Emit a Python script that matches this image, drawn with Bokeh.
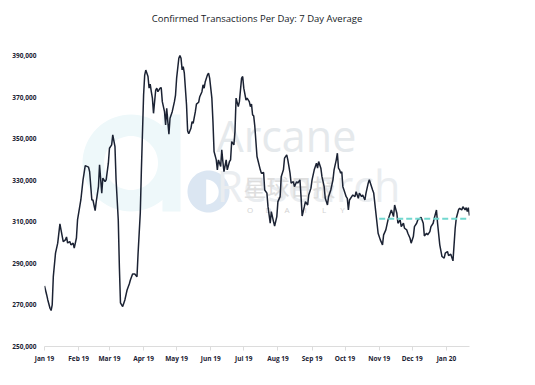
import numpy as np
import pandas as pd
from bokeh.plotting import figure
from bokeh.models import (Range1d, FixedTicker, NumeralTickFormatter, Label, Title,
                          PolyAnnotation, BoxAnnotation, ColumnDataSource)
from bokeh.embed import file_html
from bokeh.resources import INLINE

# ---------------- data ----------------
title_text = "Confirmed Transactions Per Day: 7 Day Average"
start_date = "2019-01-01"
# days since 2019-01-01
day_offsets = [
    0, 2, 3, 5, 6, 7, 8, 10, 12, 14, 15, 17, 19, 20, 21, 23, 24, 26, 27, 29,
    30, 33, 35, 37, 40, 41, 43, 44, 46, 47, 49, 50, 52, 53, 55, 56, 58, 59, 61, 62,
    64, 65, 67, 68, 69, 71, 73, 75, 77, 78, 80, 82, 84, 85, 87, 88, 90, 91, 92, 94,
    95, 96, 97, 98, 99, 101, 102, 103, 105, 106, 107, 109, 110, 111, 112, 113, 114, 116, 118, 119,
    120, 122, 123, 124, 125, 126, 127, 129, 130, 131, 133, 134, 135, 137, 138, 140, 141, 143, 144, 145,
    146, 148, 149, 150, 152, 153, 154, 156, 157, 158, 160, 161, 162, 163, 165, 166, 168, 169, 170, 172,
    173, 174, 176, 177, 179, 180, 181, 183, 184, 186, 187, 188, 189, 190, 191, 193, 196, 197, 199, 200,
    202, 203, 205, 206, 208, 209, 211, 212, 214, 215, 217, 218, 220, 221, 223, 224, 226, 227, 229, 230,
    232, 233, 234, 236, 237, 239, 240, 242, 243, 245, 246, 247, 248, 249, 251, 252, 254, 255, 257, 258,
    260, 262, 263, 265, 266, 267, 268, 269, 270, 271, 272, 274, 275, 276, 277, 279, 280, 282, 283, 285,
    286, 288, 289, 291, 292, 294, 295, 298, 299, 301, 303, 305, 307, 308, 310, 312, 314, 315, 317, 318,
    320, 321, 323, 324, 326, 327, 329, 330, 332, 333, 335, 336, 338, 339, 341, 342, 344, 345, 347, 348,
    350, 351, 353, 354, 356, 357, 359, 361, 363, 364, 366, 367, 369, 371, 373, 374, 376, 377, 379, 380,
    382, 383, 384, 385, 386,
]
tx_per_day = [
    279200, 274800, 272400, 268400, 267300, 270000, 283600, 294900, 299700, 309000,
    306100, 300500, 301300, 302700, 299800, 300500, 298900, 299700, 297300, 302200,
    310900, 320500, 330200, 337000, 336300, 334100, 320500, 320500, 315400, 319700,
    326900, 337400, 323800, 331000, 329300, 330200, 338200, 345400, 347000, 351800,
    346200, 330200, 310900, 288400, 271000, 269200, 272400, 277200, 280100, 282000,
    284900, 284900, 283600, 294900, 314300, 335000, 371000, 380600, 383000, 379900,
    374300, 376200, 372600, 369500, 362200, 373400, 374300, 372600, 374300, 374600,
    367800, 363000, 356600, 364600, 358200, 352100, 359800, 363000, 367800, 371000,
    379100, 388700, 390000, 388700, 383100, 384700, 381500, 366200, 353700, 352400,
    355000, 358200, 357400, 363000, 366600, 367500, 370200, 372600, 375900, 374300,
    377400, 380700, 381500, 379100, 369500, 358200, 343800, 339800, 335000, 339800,
    336600, 344600, 339000, 334100, 339800, 335000, 339000, 339800, 348600, 347000,
    353400, 369500, 365400, 367800, 379100, 379900, 374300, 368600, 369500, 367800,
    365400, 366600, 361400, 361000, 356000, 341400, 335000, 333400, 333700, 325300,
    323800, 317300, 309300, 314900, 310100, 308000, 312500, 319700, 322100, 331700,
    335000, 340600, 342200, 339800, 333400, 328600, 329300, 326900, 329300, 328600,
    330200, 322100, 312800, 317300, 319700, 318100, 322900, 326200, 330200, 335000,
    336600, 338200, 335800, 339000, 335800, 331700, 326900, 321300, 318100, 322100,
    325300, 330200, 335000, 339800, 343000, 335800, 335000, 333400, 334100, 326900,
    325300, 322100, 321300, 315700, 320500, 322100, 322900, 322100, 324500, 321300,
    323800, 322100, 322900, 320500, 323800, 328600, 330200, 325300, 323800, 314100,
    304500, 301300, 298900, 303700, 306100, 310900, 314100, 315700, 312500, 318100,
    314100, 309300, 310900, 307700, 309300, 306900, 306100, 304500, 302100, 299700,
    302900, 307700, 309300, 310900, 311700, 312200, 309300, 303200, 304500, 303700,
    305300, 307700, 309300, 311700, 315700, 309300, 298900, 293300, 292500, 294900,
    295700, 293700, 294400, 291200, 306900, 311700, 315700, 316500, 315700, 317300,
    315700, 316800, 314900, 316800, 313000,
]
reference_dates = ["2019-11-01", "2020-01-22"]
reference_level = [311500, 311500]

x_end_date = "2020-01-22"
tick_dates = ["2019-01-01", "2019-02-01", "2019-03-01", "2019-04-01", "2019-05-01",
              "2019-06-01", "2019-07-01", "2019-08-01", "2019-09-01", "2019-10-01",
              "2019-11-01", "2019-12-01", "2020-01-01"]
tick_labels = ["Jan 19", "Feb 19", "Mar 19", "Apr 19", "May 19", "Jun 19", "Jul 19",
               "Aug 19", "Sep 19", "Oct 19", "Nov 19", "Dec 19", "Jan 20"]
y_ticks = [250000, 270000, 290000, 310000, 330000, 350000, 370000, 390000]
y_min, y_max = 250000, 392900

# ---------------- figure ----------------
FRAME_W, FRAME_H = 425, 297
dates = pd.Timestamp(start_date) + pd.to_timedelta(day_offsets, unit="D")
src = ColumnDataSource(dict(date=dates, value=tx_per_day))

p = figure(width=44 + FRAME_W + 43, height=49 + FRAME_H + 30, x_axis_type="datetime",
           x_range=Range1d(pd.Timestamp(start_date), pd.Timestamp(x_end_date)),
           y_range=Range1d(y_min, y_max),
           output_backend="svg", toolbar_location=None,
           min_border_left=44, min_border_right=43,
           min_border_top=49, min_border_bottom=30,
           background_fill_color="white", border_fill_color="white")
p.outline_line_color = None
p.grid.visible = False

p.title.text = title_text
p.title.align = "center"
p.title.text_font = "Open Sans"
p.title.text_font_size = "9.5px"
p.title.text_font_style = "normal"
p.title.text_color = "#151a26"
p.title.standoff = 4
# white (invisible on the white border) spacer between the title and the frame
p.add_layout(Title(text=".", text_font="Open Sans", text_font_size="9.5px",
                   text_color="white", standoff=15), "above")

# ---------------- watermark ----------------
ink = "#eef8fa"
ang = np.linspace(0, 2 * np.pi, 73)
ring_c, r_out, r_in = (86.5, 183.5), 48.5, 27
ring_x = list(ring_c[0] + r_out * np.cos(ang)) + list(ring_c[0] + r_in * np.cos(ang[::-1]))
ring_y = list(ring_c[1] + r_out * np.sin(ang)) + list(ring_c[1] + r_in * np.sin(ang[::-1]))
p.add_layout(PolyAnnotation(xs=ring_x, ys=ring_y, xs_units="screen", ys_units="screen",
                            fill_color=ink, fill_alpha=1, line_alpha=0, level="underlay"))
p.add_layout(BoxAnnotation(left=118, right=136, bottom=135, top=232,
                           left_units="screen", right_units="screen",
                           bottom_units="screen", top_units="screen",
                           fill_color=ink, fill_alpha=1, line_alpha=0, level="underlay"))
disc_x = list(164 + 21 * np.cos(ang))
disc_y = list(155 + 21 * np.sin(ang))
p.add_layout(PolyAnnotation(xs=disc_x, ys=disc_y, xs_units="screen", ys_units="screen",
                            fill_color="#dbe6f2", fill_alpha=1, line_alpha=0, level="underlay"))
half = np.linspace(-np.pi / 2, np.pi / 2, 37)
d_x = list(161.7 + 12.5 * np.cos(half))
d_y = list(154.5 + 12.5 * np.sin(half))
p.add_layout(PolyAnnotation(xs=d_x, ys=d_y, xs_units="screen", ys_units="screen",
                            fill_color="white", fill_alpha=1, line_alpha=0, level="underlay"))
for txt, sy, col in [("Arcane", 211, "#e5e9ec"), ("Research", 161, "#eaedf0")]:
    p.add_layout(Label(x=172, y=sy, x_units="screen", y_units="screen", text=txt,
                       text_font="Open Sans", text_font_size="43px", text_color=col,
                       text_baseline="alphabetic", level="underlay"))
p.add_layout(Label(x=199, y=161, x_units="screen", y_units="screen", text="星球日报",
                   text_font="Noto Sans CJK SC", text_font_size="23px", text_color="#dedede",
                   text_baseline="middle", level="underlay"))
for i, ch in enumerate("ODAILY"):
    p.add_layout(Label(x=205.5 + i * 18.5, y=137, x_units="screen", y_units="screen",
                       text=ch, text_font="Open Sans", text_font_size="8px",
                       text_color="#d2d2d2", text_align="center", text_baseline="middle",
                       level="underlay"))

# ---------------- data marks ----------------
p.line(x="date", y="value", source=src, line_color="#1b2233", line_width=1.5)
p.line(x=pd.to_datetime(reference_dates), y=reference_level,
       line_color="#72d8cf", line_width=2, line_dash="6 3")

# ---------------- axes ----------------
tick_ms = [float(pd.Timestamp(d).value // 10**6) for d in tick_dates]
xa = p.below[0]
xa.ticker = FixedTicker(ticks=tick_ms)
xa.major_label_overrides = {t: l for t, l in zip(tick_ms, tick_labels)}
xa.axis_line_color = "#dcdcdc"
xa.major_tick_line_color = "#dcdcdc"
xa.major_tick_out = 4
xa.major_tick_in = 0
xa.minor_tick_line_color = None
xa.major_label_standoff = 3
xa.major_label_text_font = "Open Sans"
xa.major_label_text_font_size = "6.5px"
xa.major_label_text_font_style = "bold"
xa.major_label_text_color = "#1b2233"

ya = p.left[0]
ya.ticker = FixedTicker(ticks=y_ticks)
ya.formatter = NumeralTickFormatter(format="0,0")
ya.axis_line_color = None
ya.major_tick_line_color = None
ya.minor_tick_line_color = None
ya.major_tick_out = 0
ya.major_tick_in = 0
ya.major_label_standoff = 8
ya.major_label_text_font = "Open Sans"
ya.major_label_text_font_size = "6.5px"
ya.major_label_text_font_style = "bold"
ya.major_label_text_color = "#1b2233"

open("out.html", "w").write(file_html(p, INLINE))
